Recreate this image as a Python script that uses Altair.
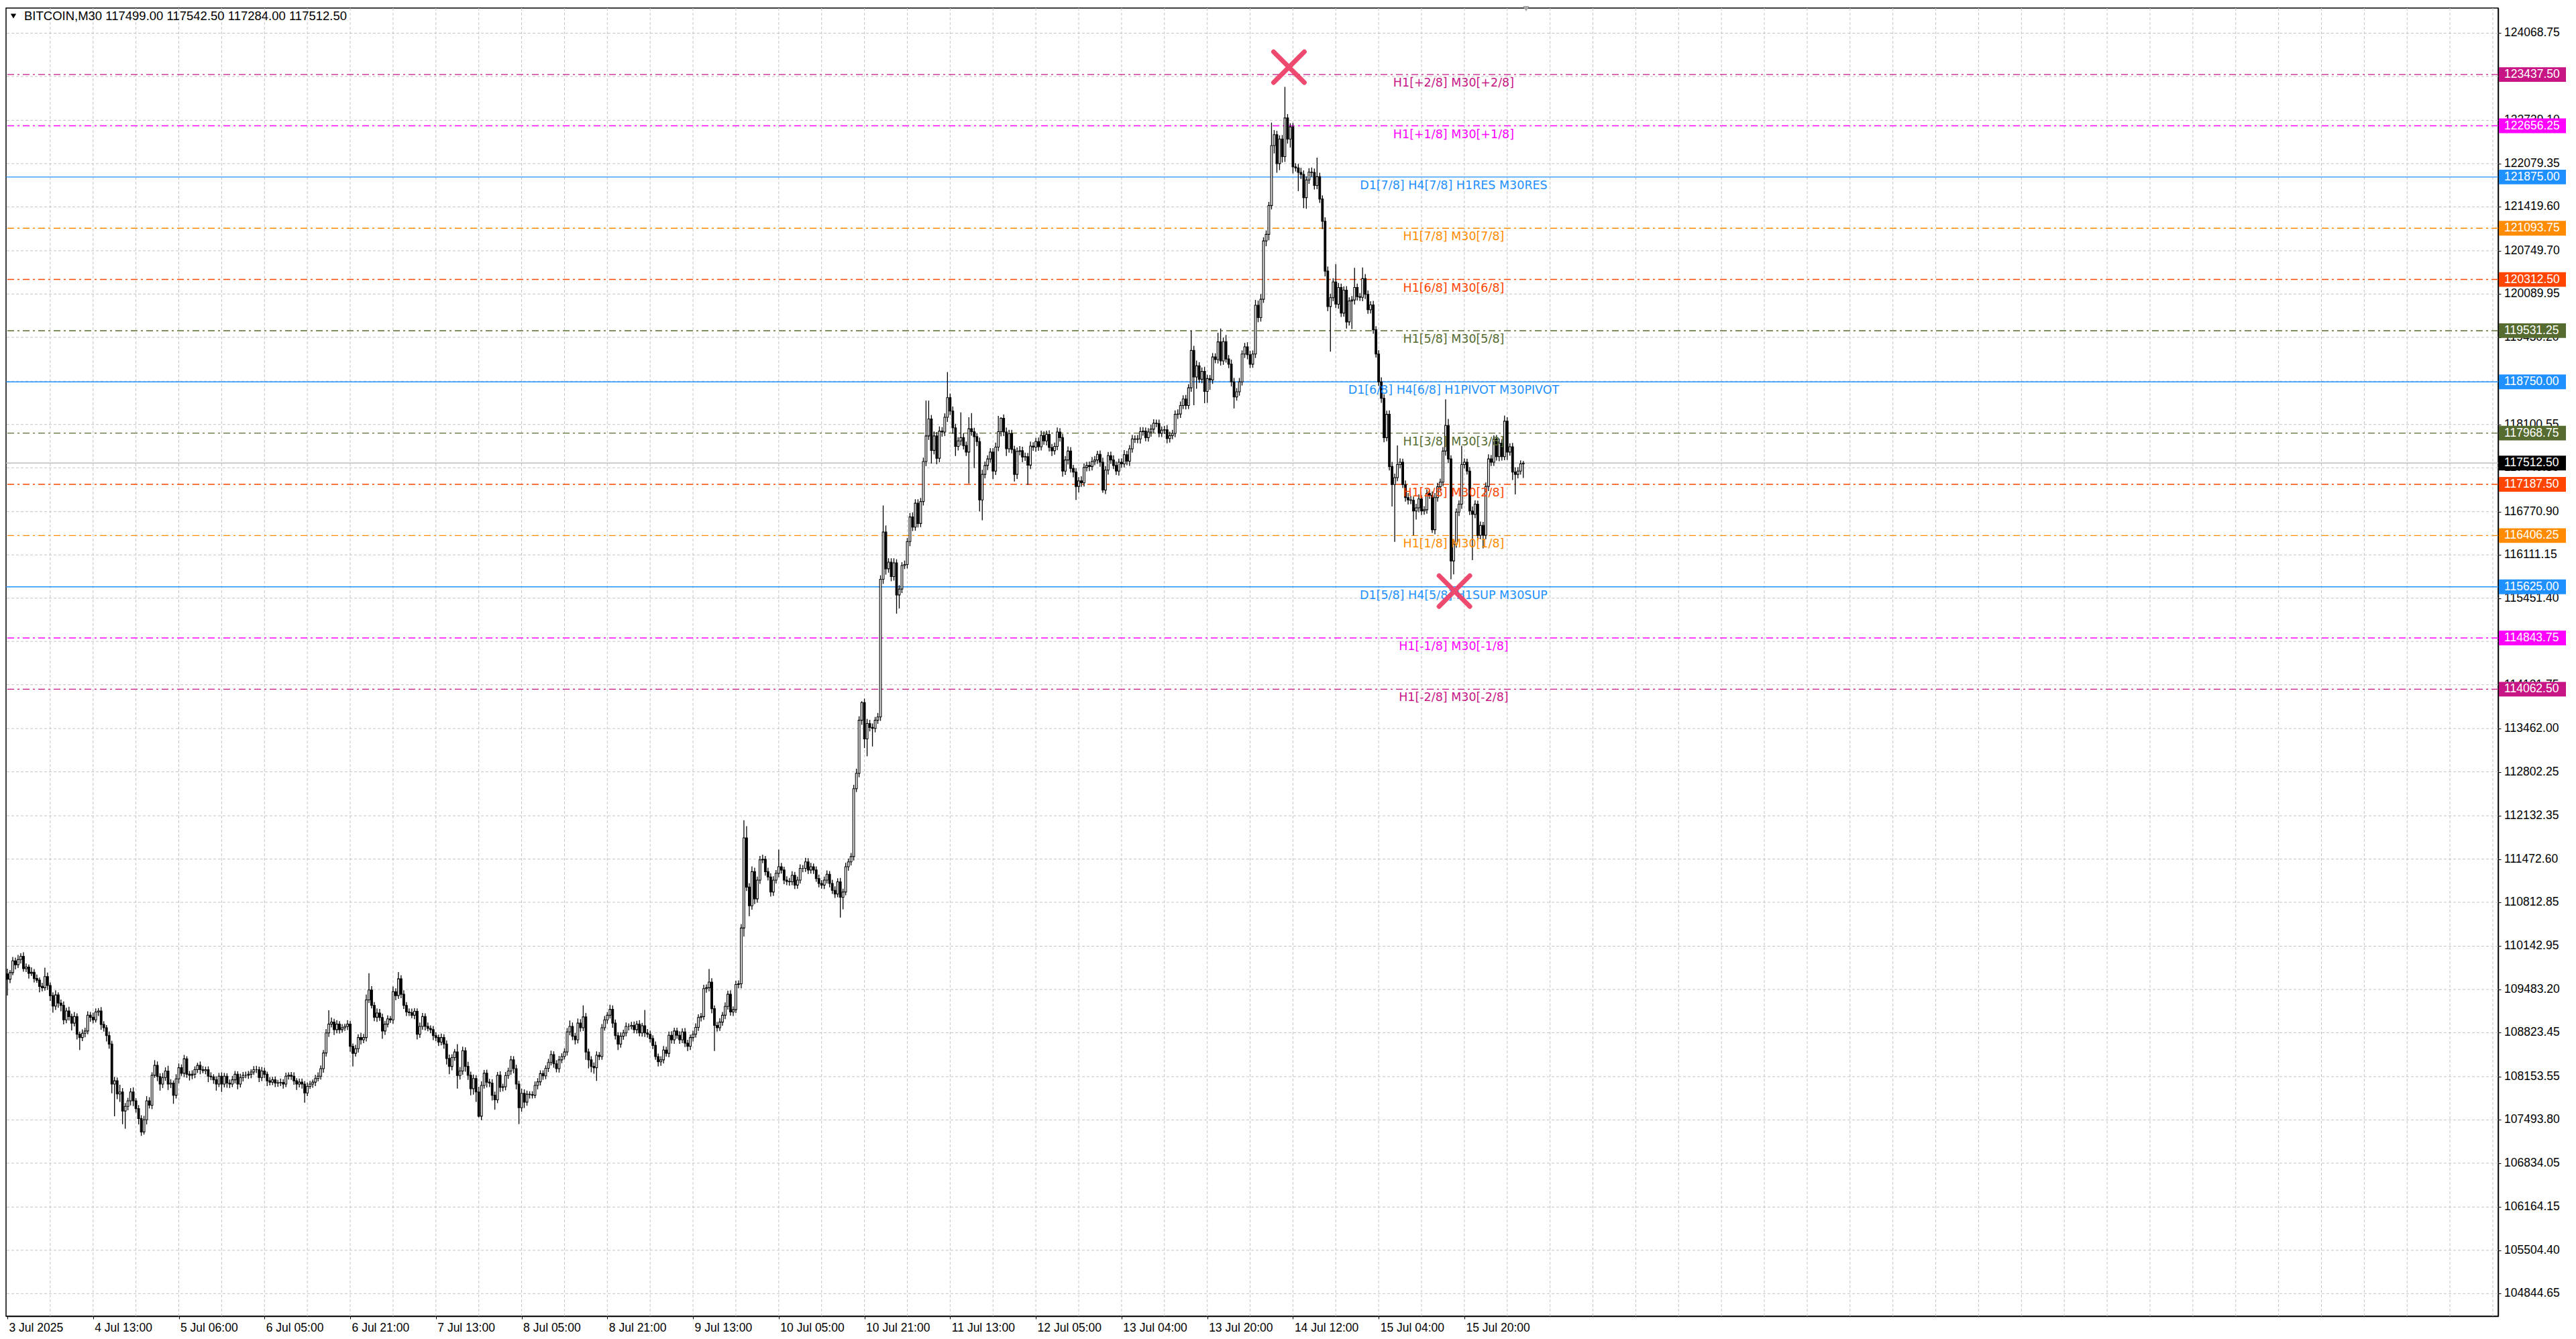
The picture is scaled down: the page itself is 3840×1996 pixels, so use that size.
import altair as alt
import pandas as pd

# ---------------- data ----------------
symbol_text = "BITCOIN,M30"
last_ohlc = ["117499.00", "117542.50", "117284.00", "117512.50"]

first_open = 109720
closes = (
    [109640, 109740, 109920, 109860, 109940, 109990, 109800, 109825, 109730, 109745]
    + [109650, 109625, 109530, 109510, 109680, 109545, 109390, 109230, 109400, 109275]
    + [109240, 109020, 109155, 109070, 108970, 109070, 108800, 108750, 108815, 108850]
    + [109090, 109060, 109020, 109140, 109155, 108950, 108900, 108780, 108650, 108040]
    + [108090, 107890, 107920, 107630, 107700, 107785, 107920, 107785, 107665, 107515]
    + [107310, 107495, 107785, 107718, 108175, 108325, 108155, 108040, 108140, 108240]
    + [108040, 108055, 107870, 108120, 108290, 108205, 108425, 108190, 108175, 108190]
    + [108260, 108325, 108260, 108245, 108260, 108160, 108150, 108105, 108040, 108160]
    + [108040, 108160, 108055, 108040, 108105, 108190, 108040, 108140, 108175, 108175]
    + [108190, 108225, 108260, 108260, 108140, 108240, 108190, 108090, 108070, 108105]
    + [108055, 108060, 108065, 108040, 108160, 108175, 108160, 108090, 108040, 108070]
    + [108040, 107905, 108005, 108040, 108070, 108125, 108160, 108275, 108515, 108820]
    + [108955, 108985, 108870, 108955, 108870, 108900, 108920, 108955, 108615, 108510]
    + [108580, 108750, 108715, 108750, 109325, 109475, 109240, 109060, 109125, 109055]
    + [108850, 108955, 109035, 109020, 109450, 109390, 109645, 109410, 109240, 109140]
    + [109130, 109090, 109150, 108800, 108920, 109070, 108920, 108890, 108870, 108780]
    + [108750, 108680, 108750, 108650, 108430, 108310, 108445, 108530, 108170, 108240]
    + [108550, 108310, 108175, 107970, 108125, 107920, 107550, 108020, 108205, 108070]
    + [108055, 107870, 107800, 108175, 107990, 108000, 108170, 108240, 108410, 108275]
    + [108040, 107680, 107900, 107765, 107885, 107880, 107870, 108020, 108075, 108200]
    + [108165, 108280, 108370, 108490, 108350, 108275, 108410, 108460, 108530, 108835]
    + [108920, 108770, 108715, 108970, 108900, 109065, 108530, 108410, 108310, 108290]
    + [108480, 108460, 108900, 109020, 109090, 109180, 108970, 108780, 108650, 108770]
    + [108820, 108920, 108920, 108935, 108870, 108955, 108820, 108930, 108820, 108800]
    + [108735, 108630, 108460, 108380, 108410, 108560, 108510, 108785, 108715, 108850]
    + [108785, 108715, 108835, 108665, 108615, 108750, 108800, 108905, 109055, 109070]
    + [109495, 109510, 109595, 109190, 108935, 108900, 108985, 109090, 109225, 109410]
    + [109140, 109175, 109560, 109570, 110420, 111795, 111045, 110760, 111280, 110865]
    + [111150, 111460, 111470, 111280, 111200, 110970, 111150, 111255, 111355, 111305]
    + [111150, 111130, 111125, 111225, 111075, 111150, 111330, 111330, 111430, 111305]
    + [111355, 111305, 111175, 111100, 111075, 111150, 111240, 111100, 110995, 110940]
    + [111125, 110890, 110970, 111355, 111430, 111510, 112545, 112780, 113590, 113860]
    + [113305, 113540, 113480, 113465, 113590, 113640, 115740, 116460, 115900, 116000]
    + [115780, 115990, 115500, 115590, 115950, 115965, 116315, 116690, 116535, 116900]
    + [116590, 116925, 117535, 117925, 118185, 117705, 117925, 117585, 118000, 117985]
    + [118210, 118510, 118305, 118050, 117765, 117850, 117900, 117780, 117680, 118035]
    + [117990, 117915, 117840, 116950, 117340, 117475, 117575, 117680, 117390, 117755]
    + [117990, 118195, 117985, 117730, 117960, 117720, 117340, 117690, 117700, 117605]
    + [117610, 117480, 117770, 117755, 117840, 117760, 117935, 117850, 117950, 117750]
    + [117700, 117765, 117985, 117900, 117390, 117560, 117695, 117430, 117375, 117155]
    + [117240, 117210, 117445, 117475, 117460, 117535, 117560, 117645, 117525, 117100]
    + [117405, 117625, 117560, 117475, 117390, 117525, 117500, 117640, 117540, 117730]
    + [117880, 117875, 117880, 117990, 118000, 117900, 117985, 118030, 118120, 118115]
    + [117965, 118015, 118020, 117885, 117930, 117965, 118255, 118260, 118390, 118490]
    + [118390, 118660, 119230, 118825, 118995, 118790, 118910, 118605, 118800, 118780]
    + [119130, 119090, 119360, 119070, 119365, 119100, 119020, 118750, 118520, 118600]
    + [118750, 119175, 119285, 119165, 119020, 119175, 119920, 119730, 120010, 120900]
    + [121000, 121440, 122355, 122520, 122080, 122455, 122185, 122775, 122455, 122640]
    + [122030, 122015, 121945, 121915, 121560, 121830, 121950, 121945, 121745, 121880]
    + [121540, 121200, 120440, 119900, 120035, 120275, 119935, 120190, 119800, 120150]
    + [119665, 119985, 120000, 120190, 120050, 120040, 120325, 120085, 119850, 119925]
    + [119545, 119175, 118750, 118500, 117900, 118255, 117460, 117185, 117290, 117490]
    + [117525, 117185, 116985, 116950, 116945, 116780, 116830, 116965, 116780, 116800]
    + [117050, 117020, 116495, 116985, 117150, 117220, 117695, 118085, 117575, 116020]
    + [116275, 116765, 116885, 117490, 117525, 117390, 116780, 116730, 116885, 116410]
    + [116560, 116410, 117155, 117575, 117525, 117880, 117610, 117815, 117610, 118150]
    + [117680, 117760, 117375, 117340, 117390, 117499, 117512.5]
)

wick_up = (
    [80, 40, 60, 50, 70, 45, 60, 55, 40, 75]
    + [50, 60, 40, 55, 135, 60, 45, 50, 70, 40]
    + [55, 60, 50, 65, 45, 70, 50, 40, 60, 50]
    + [60, 50, 70, 55, 45, 60, 50, 40, 60, 50]
    + [60, 50, 110, 60, 50, 45, 60, 70, 40, 55]
    + [50, 60, 70, 55, 45, 80, 60, 50, 70, 55]
    + [80, 60, 40, 70, 65, 50, 60, 40, 50, 60]
    + [50, 40, 60, 55, 45, 50, 60, 40, 55, 50]
    + [60, 50, 45, 55, 60, 50, 45, 60, 50, 55]
    + [50, 40, 55, 60, 45, 60, 50, 40, 55, 45]
    + [50, 45, 60, 50, 55, 45, 50, 60, 40, 55]
    + [55, 45, 60, 50, 40, 55, 60, 50, 45, 60]
    + [210, 70, 50, 60, 45, 55, 40, 60, 50, 45]
    + [60, 50, 70, 55, 80, 255, 60, 50, 70, 60]
    + [60, 50, 55, 45, 80, 50, 105, 55, 60, 50]
    + [55, 60, 50, 45, 60, 55, 50, 60, 45, 55]
    + [50, 45, 60, 50, 55, 60, 50, 45, 120, 60]
    + [60, 50, 70, 55, 60, 50, 80, 60, 50, 55]
    + [50, 60, 55, 50, 60, 45, 55, 50, 60, 55]
    + [60, 50, 70, 60, 55, 45, 50, 60, 55, 50]
    + [50, 45, 55, 60, 50, 55, 60, 50, 55, 60]
    + [90, 60, 50, 70, 60, 175, 60, 50, 55, 60]
    + [60, 50, 55, 60, 50, 70, 60, 55, 50, 60]
    + [50, 60, 45, 55, 60, 50, 60, 45, 240, 60]
    + [55, 50, 60, 45, 55, 60, 50, 55, 60, 50]
    + [50, 60, 55, 60, 50, 45, 55, 60, 50, 55]
    + [60, 50, 200, 60, 50, 55, 60, 50, 60, 55]
    + [60, 50, 55, 50, 60, 270, 180, 60, 80, 60]
    + [55, 60, 70, 50, 60, 55, 60, 50, 260, 60]
    + [50, 60, 55, 60, 50, 55, 60, 50, 60, 55]
    + [60, 50, 55, 60, 50, 55, 60, 50, 55, 60]
    + [55, 60, 50, 60, 50, 55, 60, 70, 60, 20]
    + [60, 70, 55, 60, 50, 60, 60, 405, 100, 60]
    + [60, 70, 55, 60, 50, 60, 55, 60, 70, 60]
    + [60, 55, 60, 540, 280, 60, 70, 60, 70, 60]
    + [60, 390, 60, 70, 60, 55, 385, 70, 60, 175]
    + [240, 60, 55, 60, 70, 60, 55, 60, 60, 70]
    + [240, 15, 60, 70, 60, 60, 55, 60, 70, 60]
    + [60, 55, 70, 60, 55, 60, 70, 60, 55, 60]
    + [55, 60, 70, 60, 55, 60, 70, 60, 55, 60]
    + [60, 70, 60, 55, 60, 70, 60, 55, 60, 70]
    + [60, 55, 60, 70, 60, 55, 60, 70, 60, 55]
    + [60, 55, 60, 70, 60, 55, 60, 70, 60, 55]
    + [60, 55, 60, 70, 60, 55, 60, 70, 60, 55]
    + [60, 55, 300, 70, 80, 55, 60, 70, 60, 55]
    + [60, 55, 140, 205, 60, 100, 60, 70, 60, 55]
    + [60, 55, 60, 70, 60, 55, 80, 70, 80, 55]
    + [60, 55, 350, 70, 60, 55, 60, 475, 60, 55]
    + [60, 55, 60, 70, 60, 55, 60, 70, 60, 290]
    + [60, 55, 60, 70, 60, 55, 270, 70, 60, 55]
    + [60, 55, 60, 300, 60, 55, 170, 70, 60, 55]
    + [60, 55, 60, 70, 60, 55, 60, 70, 60, 290]
    + [60, 55, 60, 70, 60, 55, 60, 70, 60, 55]
    + [60, 55, 60, 70, 60, 55, 60, 400, 100, 55]
    + [60, 55, 60, 285, 60, 55, 60, 70, 60, 55]
    + [60, 55, 60, 70, 60, 55, 60, 70, 60, 85]
    + [60, 55, 60, 70, 60, 55, 30]
)

wick_dn = (
    [250, 60, 40, 70, 50, 60, 45, 50, 80, 40]
    + [60, 40, 90, 55, 45, 70, 80, 100, 60, 70]
    + [90, 70, 50, 60, 110, 50, 80, 190, 55, 60]
    + [50, 70, 55, 40, 60, 80, 60, 90, 70, 140]
    + [490, 80, 120, 200, 270, 60, 70, 80, 60, 90]
    + [60, 40, 70, 50, 60, 40, 70, 100, 60, 50]
    + [90, 60, 130, 50, 70, 40, 60, 55, 80, 60]
    + [60, 50, 70, 40, 55, 90, 50, 60, 100, 45]
    + [120, 50, 70, 60, 45, 55, 80, 50, 60, 45]
    + [55, 60, 45, 50, 70, 55, 60, 80, 50, 45]
    + [60, 55, 50, 70, 45, 50, 55, 60, 90, 50]
    + [70, 150, 50, 40, 55, 60, 45, 50, 60, 55]
    + [60, 50, 80, 55, 60, 45, 50, 55, 80, 200]
    + [50, 60, 70, 50, 60, 50, 45, 60, 70, 50]
    + [120, 60, 50, 45, 60, 70, 50, 60, 55, 60]
    + [50, 45, 60, 80, 55, 50, 60, 45, 55, 70]
    + [55, 60, 50, 70, 90, 120, 60, 50, 200, 60]
    + [60, 80, 70, 100, 90, 150, 20, 60, 50, 80]
    + [60, 80, 150, 50, 70, 60, 55, 50, 60, 70]
    + [80, 250, 60, 90, 55, 60, 50, 45, 60, 55]
    + [60, 50, 55, 45, 60, 55, 60, 50, 45, 55]
    + [50, 60, 70, 55, 60, 50, 120, 130, 90, 90]
    + [200, 55, 50, 45, 60, 50, 70, 60, 90, 55]
    + [55, 50, 60, 45, 55, 60, 50, 55, 60, 50]
    + [60, 55, 50, 70, 60, 55, 50, 60, 55, 60]
    + [55, 60, 50, 60, 70, 55, 60, 50, 55, 60]
    + [50, 60, 55, 70, 390, 60, 50, 55, 60, 50]
    + [55, 60, 50, 60, 70, 130, 60, 160, 60, 80]
    + [60, 55, 50, 60, 55, 70, 60, 50, 60, 55]
    + [60, 55, 60, 50, 60, 55, 50, 60, 55, 60]
    + [55, 60, 50, 60, 55, 60, 50, 60, 55, 60]
    + [50, 310, 185, 50, 60, 55, 60, 50, 60, 70]
    + [140, 265, 60, 275, 60, 55, 60, 70, 90, 60]
    + [70, 60, 285, 205, 60, 55, 60, 70, 60, 55]
    + [60, 55, 60, 70, 60, 200, 60, 90, 60, 70]
    + [60, 70, 60, 90, 145, 60, 70, 60, 60, 480]
    + [60, 480, 70, 175, 310, 60, 70, 55, 120, 60]
    + [60, 70, 60, 110, 60, 60, 110, 70, 60, 80]
    + [60, 300, 60, 55, 70, 60, 55, 60, 70, 60]
    + [80, 60, 55, 60, 85, 60, 70, 60, 80, 205]
    + [90, 60, 55, 60, 70, 60, 55, 60, 70, 40]
    + [60, 70, 60, 55, 60, 70, 60, 55, 60, 70]
    + [60, 55, 60, 70, 60, 55, 60, 70, 60, 55]
    + [60, 55, 60, 70, 60, 55, 60, 70, 60, 55]
    + [60, 55, 60, 430, 180, 55, 60, 180, 175, 150]
    + [60, 55, 60, 70, 60, 55, 60, 70, 175, 55]
    + [60, 55, 60, 70, 60, 55, 60, 70, 60, 55]
    + [80, 90, 60, 120, 140, 100, 90, 80, 70, 130]
    + [100, 55, 285, 70, 160, 170, 60, 70, 60, 55]
    + [60, 120, 80, 70, 690, 55, 60, 70, 60, 55]
    + [100, 55, 430, 70, 60, 55, 60, 70, 60, 55]
    + [60, 55, 60, 70, 70, 55, 60, 335, 875, 55]
    + [60, 55, 60, 70, 60, 370, 130, 70, 60, 55]
    + [60, 55, 50, 70, 60, 55, 60, 70, 60, 280]
    + [205, 55, 60, 70, 60, 55, 60, 700, 60, 80]
    + [60, 200, 60, 70, 60, 55, 60, 70, 60, 55]
    + [120, 55, 120, 305, 60, 55, 215]
)

# Murrey-math style levels
level_values = [123437.50, 122656.25, 121875.00, 121093.75, 120312.50, 119531.25,
                118750.00, 117968.75, 117187.50, 116406.25, 115625.00, 114843.75, 114062.50]
level_labels = ["H1[+2/8] M30[+2/8]", "H1[+1/8] M30[+1/8]", "D1[7/8] H4[7/8] H1RES M30RES",
                "H1[7/8] M30[7/8]", "H1[6/8] M30[6/8]", "H1[5/8] M30[5/8]",
                "D1[6/8] H4[6/8] H1PIVOT M30PIVOT", "H1[3/8] M30[3/8]", "H1[2/8] M30[2/8]",
                "H1[1/8] M30[1/8]", "D1[5/8] H4[5/8] H1SUP M30SUP", "H1[-1/8] M30[-1/8]",
                "H1[-2/8] M30[-2/8]"]
level_colors = ["#C71585", "#FF00FF", "#1E90FF", "#FF8C00", "#FF4500", "#556B2F",
                "#1E90FF", "#556B2F", "#FF4500", "#FF8C00", "#1E90FF", "#FF00FF", "#C71585"]
level_solid = [False, False, True, False, False, False, True, False, False, False, True, False, False]
level_label_bar = 540

current_price = 117512.50

marker_bar = [478.5, 540.3]
marker_price = [123550, 115560]

y_ticks = [124068.75, 123408.85, 122739.10, 122079.35, 121419.60, 120749.70, 120089.95,
           119430.20, 118760.30, 118100.55, 117440.80, 116770.90, 116111.15, 115451.40,
           114791.50, 114131.75, 113462.00, 112802.25, 112132.35, 111472.60, 110812.85,
           110142.95, 109483.20, 108823.45, 108153.55, 107493.80, 106834.05, 106164.15,
           105504.40, 104844.65]

x_tick_bars = [0, 32, 64, 96, 128, 160, 192, 224, 256, 288, 320, 352, 384, 416, 448, 480, 512, 544]
x_tick_labels = ["3 Jul 2025", "4 Jul 13:00", "5 Jul 06:00", "6 Jul 05:00", "6 Jul 21:00",
                 "7 Jul 13:00", "8 Jul 05:00", "8 Jul 21:00", "9 Jul 13:00", "10 Jul 05:00",
                 "10 Jul 21:00", "11 Jul 13:00", "12 Jul 05:00", "13 Jul 04:00", "13 Jul 20:00",
                 "14 Jul 12:00", "15 Jul 04:00", "15 Jul 20:00"]
grid_bars = list(range(16, 929, 16))

# ---------------- tables ----------------
opens = [first_open] + closes[:-1]
rows = []
for i, (o, c, u, d) in enumerate(zip(opens, closes, wick_up, wick_dn)):
    rows.append({"i": i, "o": o, "c": c, "h": max(o, c) + u, "l": min(o, c) - d})
candles = pd.DataFrame(rows)

levels = pd.DataFrame({"v": level_values, "label": level_labels, "color": level_colors,
                       "solid": level_solid, "lx": [level_label_bar] * len(level_values)})
boxes = pd.DataFrame({"v": level_values + [current_price],
                      "color": level_colors + ["#000000"]})
boxes["txt"] = boxes["v"].map(lambda v: f"{v:.2f}")
ytick_df = pd.DataFrame({"v": y_ticks})
ytick_df["txt"] = ytick_df["v"].map(lambda v: f"{v:.2f}")
markers = pd.DataFrame({"i": marker_bar, "p": marker_price})
title_df = pd.DataFrame({"t": [symbol_text + "  " + " ".join(last_ohlc)]})

# ---------------- layout ----------------
W, H = 3715, 1950
xscale = alt.Scale(domain=[-0.5, 930], nice=False, zero=False)
yscale = alt.Scale(domain=[104500, 124452], nice=False, zero=False)
AX_FONT = "Liberation Sans"
AX_SIZE = 17.5
grid_color = "#C4C4C4"

label_expr = "[" + ",".join(f"'{s}'" for s in x_tick_labels) + "][round(datum.value/32)]"
x_axis = alt.Axis(values=x_tick_bars, labelExpr=label_expr, labelAlign="left",
                  labelBaseline="top", tickSize=4, labelPadding=4, labelOffset=2, grid=False,
                  domainColor="black", domainWidth=1.5, tickColor="black", labelColor="black",
                  labelFont=AX_FONT, labelFontSize=AX_SIZE, title=None, labelOverlap=False,
                  labelFlush=False, zindex=0)
# price axis: line and ticks from the axis, labels drawn as a text layer so the
# coloured level boxes can sit on top of them, as in the terminal
y_axis = alt.Axis(orient="right", values=y_ticks, labels=False, grid=False,
                  domainColor="black", domainWidth=1.5, tickColor="black", tickSize=4,
                  title=None, zindex=0)


def X(field):
    return alt.X(field, scale=xscale, axis=x_axis)


def Y(field):
    return alt.Y(field, scale=yscale, axis=y_axis)


hgrid = alt.Chart(ytick_df).mark_rule(
    color=grid_color, strokeDash=[4, 3], strokeWidth=1).encode(y=Y("v:Q"))
vgrid = alt.Chart(pd.DataFrame({"gx": grid_bars})).mark_rule(
    color=grid_color, strokeDash=[4, 3], strokeWidth=1).encode(x=X("gx:Q"))

lvl_dash = alt.Chart(levels).transform_filter("!datum.solid").mark_rule(
    strokeDash=[10, 5, 3, 5], strokeWidth=1.4).encode(
    y=Y("v:Q"), color=alt.Color("color:N", scale=None))
lvl_solid = alt.Chart(levels).transform_filter("datum.solid").mark_rule(
    strokeWidth=1.4).encode(y=Y("v:Q"), color=alt.Color("color:N", scale=None))
cur_line = alt.Chart(pd.DataFrame({"v": [current_price]})).mark_rule(
    color="#BEBEBE", strokeWidth=1.3).encode(y=Y("v:Q"))

wicks = alt.Chart(candles).mark_rule(color="black", strokeWidth=1.3).encode(
    x=X("i:Q"), y=Y("l:Q"), y2="h:Q")
bodies = alt.Chart(candles).transform_calculate(
    x0="datum.i - 0.34", x1="datum.i + 0.34").mark_rect(
    stroke="black", strokeWidth=1.1).encode(
    x=X("x0:Q"), x2="x1:Q", y=Y("o:Q"), y2="c:Q",
    fill=alt.condition("datum.c >= datum.o", alt.value("white"), alt.value("black")))

lvl_text = alt.Chart(levels).mark_text(
    font="DejaVu Sans", fontSize=17.5, align="center", baseline="middle", dy=13).encode(
    x=X("lx:Q"), y=Y("v:Q"), text="label:N", color=alt.Color("color:N", scale=None))

xmarks = alt.Chart(markers).mark_point(
    shape="M-1,-1L1,1M-1,1L1,-1", filled=False, strokeWidth=7, strokeCap="round",
    color="#EE4068", size=2100, opacity=0.95).encode(x=X("i:Q"), y=Y("p:Q"))

ytick_text = alt.Chart(ytick_df).mark_text(
    font=AX_FONT, fontSize=AX_SIZE, align="left", baseline="middle", color="black").encode(
    x=alt.value(W + 9), y=Y("v:Q"), text="txt:N")

box_rect = alt.Chart(boxes).transform_calculate(
    b0="datum.v - 112", b1="datum.v + 112").mark_rect().encode(
    x=alt.value(W + 1), x2=alt.value(W + 101),
    y=Y("b0:Q"), y2="b1:Q", fill=alt.Color("color:N", scale=None))
box_text = alt.Chart(boxes).mark_text(
    font=AX_FONT, fontSize=AX_SIZE, align="left", baseline="middle", color="white").encode(
    x=alt.value(W + 9), y=Y("v:Q"), text="txt:N")

title_text = alt.Chart(title_df).mark_text(
    font=AX_FONT, fontSize=18.5, align="left", baseline="middle", color="black").encode(
    x=alt.value(27), y=alt.value(12), text="t:N")
title_tri = alt.Chart(title_df).mark_point(
    shape="triangle-down", filled=True, color="black", size=70, opacity=1).encode(
    x=alt.value(11), y=alt.value(12))
shift_tri = alt.Chart(title_df).mark_point(
    shape="triangle-down", filled=True, color="#A8A8A8", size=90, opacity=1).encode(
    x=alt.value(2266), y=alt.value(1))

chart = alt.layer(
    hgrid, vgrid, lvl_dash, lvl_solid, cur_line, wicks, bodies, lvl_text, xmarks,
    ytick_text, box_rect, box_text, title_text, title_tri, shift_tri
).properties(
    width=W, height=H, padding={"left": 0, "top": 0, "right": 4, "bottom": 0},
    background="white"
).configure_view(stroke="black", strokeWidth=1.5)

chart.save("out.html", embed_options={"renderer": "svg", "actions": False})
